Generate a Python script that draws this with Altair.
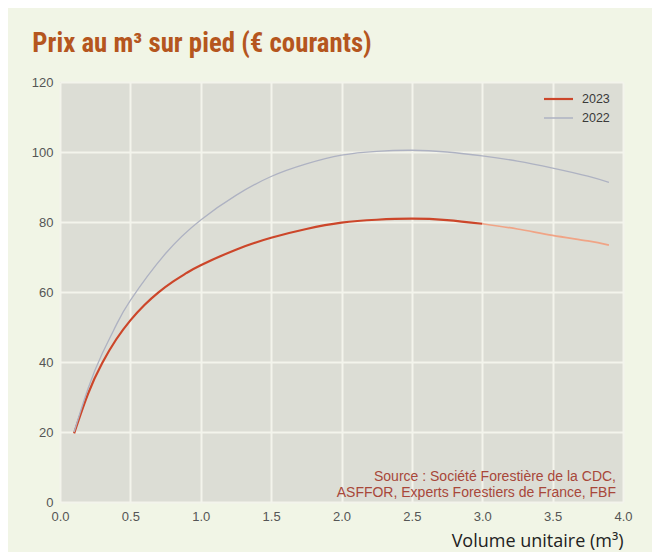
import altair as alt
import pandas as pd

# ---- data ----
x_2023 = [0.1, 0.2, 0.3, 0.4, 0.5, 0.6, 0.7, 0.8, 0.9, 1.0, 1.25, 1.5, 1.75, 2.0, 2.25, 2.5, 2.75, 3.0]
y_2023 = [19.6, 31.0, 39.7, 46.5, 51.9, 56.3, 59.9, 62.9, 65.45, 67.65, 72.1, 75.5, 78.0, 79.8, 80.65, 80.95, 80.55, 79.5]

x_2023_ext = [3.0, 3.25, 3.5, 3.75, 3.9]
y_2023_ext = [79.5, 78.0, 76.2, 74.6, 73.4]

x_2022 = [0.1, 0.2, 0.3, 0.4, 0.5, 0.75, 1.0, 1.25, 1.5, 1.75, 2.0, 2.25, 2.5, 2.75, 3.0, 3.25, 3.5, 3.75, 3.9]
y_2022 = [20.0, 32.5, 42.4, 50.6, 57.6, 71.0, 80.6, 87.6, 93.0, 96.6, 99.1, 100.2, 100.5, 100.0, 98.9, 97.4, 95.4, 93.1, 91.3]

series_names = ["2023", "2023 (suite)", "2022"]
series_colors = ["#cc462a", "#f0a486", "#aeb2c2"]
series_widths = [2.2, 1.3, 1.3]

legend_labels = ["2023", "2022"]
legend_colors = ["#cc462a", "#aeb2c2"]

x_ticks = [0, 0.5, 1.0, 1.5, 2.0, 2.5, 3.0, 3.5, 4.0]
y_ticks = [0, 20, 40, 60, 80, 100, 120]

title_text = "Prix au m³ sur pied (€ courants)"
x_title = "Volume unitaire (m³)"
source_lines = ["Source : Société Forestière de la CDC,", "ASFFOR, Experts Forestiers de France, FBF"]

# ---- build table ----
rows = []
for xs, ys, name in [(x_2023, y_2023, series_names[0]),
                     (x_2023_ext, y_2023_ext, series_names[1]),
                     (x_2022, y_2022, series_names[2])]:
    for xv, yv in zip(xs, ys):
        rows.append({"x": xv, "y": yv, "serie": name})
df = pd.DataFrame(rows)

W, H = 563, 420

lines = alt.Chart(df).mark_line(interpolate="natural").encode(
    x=alt.X("x:Q", scale=alt.Scale(domain=[0, 4], nice=False),
            axis=alt.Axis(values=x_ticks, format=".1f", grid=True, domain=False, ticks=False,
                          labelFlush=False, labelPadding=8, labelFontSize=13,
                          labelColor="#555555", labelFont="Liberation Sans",
                          title=x_title, titleX=W, titleY=44, titleAlign="right",
                          titleAnchor="end", titleBaseline="alphabetic",
                          titleFontSize=18, titleFontWeight="normal", titleColor="#222222",
                          titleFont="Open Sans")),
    y=alt.Y("y:Q", scale=alt.Scale(domain=[0, 120], nice=False),
            axis=alt.Axis(values=y_ticks, grid=True, domain=False, ticks=False,
                          labelPadding=7, labelFontSize=13, labelColor="#555555",
                          labelFont="Liberation Sans", title=None)),
    color=alt.Color("serie:N", scale=alt.Scale(domain=series_names, range=series_colors), legend=None),
    strokeWidth=alt.StrokeWidth("serie:N", scale=alt.Scale(domain=series_names, range=series_widths), legend=None),
    order=alt.Order("x:Q"),
)

leg_df = pd.DataFrame({"label": legend_labels, "color": legend_colors})
leg1_rule = alt.Chart(leg_df.iloc[[0]]).mark_rule(strokeWidth=2.2, color=legend_colors[0]).encode(
    x=alt.value(484), x2=alt.value(513), y=alt.value(17))
leg2_rule = alt.Chart(leg_df.iloc[[1]]).mark_rule(strokeWidth=1.5, color=legend_colors[1]).encode(
    x=alt.value(484), x2=alt.value(513), y=alt.value(36))
leg1_text = alt.Chart(leg_df.iloc[[0]]).mark_text(align="left", baseline="middle", fontSize=12.5,
                                                  color="#3a3a3a", font="Liberation Sans").encode(
    x=alt.value(522), y=alt.value(17), text="label:N")
leg2_text = alt.Chart(leg_df.iloc[[1]]).mark_text(align="left", baseline="middle", fontSize=12.5,
                                                  color="#3a3a3a", font="Liberation Sans").encode(
    x=alt.value(522), y=alt.value(36), text="label:N")

src_df = pd.DataFrame({"t": source_lines})
src1 = alt.Chart(src_df.iloc[[0]]).mark_text(align="right", baseline="alphabetic", fontSize=14,
                                             color="#a8473a", font="Liberation Sans").encode(
    x=alt.value(556), y=alt.value(399), text="t:N")
src2 = alt.Chart(src_df.iloc[[1]]).mark_text(align="right", baseline="alphabetic", fontSize=14,
                                             color="#a8473a", font="Liberation Sans").encode(
    x=alt.value(556), y=alt.value(415), text="t:N")

chart = alt.layer(lines, leg1_rule, leg2_rule, leg1_text, leg2_text, src1, src2).properties(
    width=W, height=H,
    title=alt.TitleParams(title_text, anchor="start", dx=1, offset=18, fontSize=26.8,
                          font="'Roboto Condensed', 'DejaVu Sans Condensed', 'Liberation Sans Narrow', Roboto",
                          fontWeight="bold", color="#b5561e"),
    autosize=alt.AutoSizeParams(type="none"),
    padding={"left": 52, "top": 74, "right": 29, "bottom": 50},
    background="#f1f5e6",
).configure_view(fill="#dcddd5", stroke=None).configure_axis(
    gridColor="#f3f4ec", gridWidth=2
)

chart.save("out.html", embed_options={"renderer": "svg", "actions": False})
